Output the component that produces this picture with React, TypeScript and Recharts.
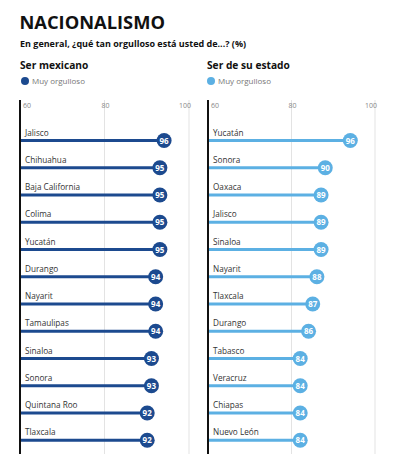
import React from 'react';
import { BarChart, Bar, XAxis, YAxis, CartesianGrid } from 'recharts';

const mexicanoStates = ['Jalisco', 'Chihuahua', 'Baja California', 'Colima', 'Yucatán', 'Durango', 'Nayarit', 'Tamaulipas', 'Sinaloa', 'Sonora', 'Quintana Roo', 'Tlaxcala'];
const mexicanoValues = [96, 95, 95, 95, 95, 94, 94, 94, 93, 93, 92, 92];
const estadoStates = ['Yucatán', 'Sonora', 'Oaxaca', 'Jalisco', 'Sinaloa', 'Nayarit', 'Tlaxcala', 'Durango', 'Tabasco', 'Veracruz', 'Chiapas', 'Nuevo León'];
const estadoValues = [96, 90, 89, 89, 89, 88, 87, 86, 84, 84, 84, 84];
const axisTicks = [60, 80, 100];
const axisDomain = [60, 100];

const FONT = '"Open Sans", "DejaVu Sans", sans-serif';
const DARK = '#1c4a8f';
const LIGHT = '#5cb0e3';

const mexicanoData = mexicanoStates.map((name, i) => ({ name, value: mexicanoValues[i] }));
const estadoData = estadoStates.map((name, i) => ({ name, value: estadoValues[i] }));

const makeShape = (color: string) => (props: any) => {
  const { x, y, width, height, payload } = props;
  const cy = y + height / 2;
  const r = 7.5;
  const cx = x + width - 8;
  return (
    <g>
      <text x={x + 5} y={cy - 5} fontSize={8.2} fill="#333" fontFamily={FONT}>{payload.name}</text>
      <line x1={x} x2={cx} y1={cy} y2={cy} stroke={color} strokeWidth={3} />
      <circle cx={cx} cy={cy} r={r} fill={color} />
      <text x={cx} y={cy + 3} fontSize={8} fontWeight={700} fill="#fff" textAnchor="middle" fontFamily={FONT}>{payload.value}</text>
    </g>
  );
};

const TickLabel = (props: any) => {
  const { x, y, payload } = props;
  const v = payload.value;
  let anchor: 'start' | 'middle' | 'end' = 'middle';
  let dx = 1;
  if (v === 60) { anchor = 'start'; dx = 3; }
  if (v === 100) { anchor = 'middle'; dx = -4; }
  return (
    <text x={x + dx} y={y + 8} fontSize={7} fill="#888" textAnchor={anchor} fontFamily={FONT}>{v}</text>
  );
};

const Panel = ({ data, color, width, left, right }: any) => (
  <BarChart
    width={width}
    height={454}
    data={data}
    layout="vertical"
    margin={{ top: 92, right, bottom: 0, left }}
    barCategoryGap={0}
  >
    <CartesianGrid horizontal={false} vertical stroke="#e3e3e3" strokeWidth={1} />
    <XAxis
      type="number"
      orientation="top"
      domain={axisDomain}
      ticks={axisTicks}
      allowDataOverflow
      height={8}
      axisLine={false}
      tickLine={false}
      tickSize={0}
      tickMargin={0}
      tick={<TickLabel />}
      interval={0}
    />
    <YAxis
      type="category"
      dataKey="name"
      width={1}
      tick={false}
      tickLine={false}
      axisLine={{ stroke: '#111', strokeWidth: 2 }}
      padding={{ top: 27, bottom: 0 }}
    />
    <Bar dataKey="value" isAnimationActive={false} shape={makeShape(color)} />
  </BarChart>
);

export default function App() {
  return (
    <div style={{ position: 'absolute', left: 0, top: 0, width: 395, height: 454, background: '#fff', overflow: 'hidden' }}>
      <svg width={395} height={100} style={{ position: 'absolute', left: 0, top: 0 }}>
        <text x={19.5} y={28.5} fontSize={18.3} fontWeight={700} fill="#111" fontFamily={FONT}>NACIONALISMO</text>
        <text x={20} y={46.5} fontSize={9} fontWeight={700} fill="#111" fontFamily={FONT}>En general, ¿qué tan orgulloso está usted de...? (%)</text>
        <text x={20} y={68.5} fontSize={10.2} fontWeight={700} fill="#111" fontFamily={FONT}>Ser mexicano</text>
        <text x={207} y={68.5} fontSize={10.2} fontWeight={700} fill="#111" fontFamily={FONT}>Ser de su estado</text>
        <circle cx={25} cy={81} r={4} fill={DARK} />
        <text x={32} y={84} fontSize={8} fill="#777" fontFamily={FONT}>Muy orgulloso</text>
        <circle cx={211} cy={81} r={4} fill={LIGHT} />
        <text x={218} y={84} fontSize={8} fill="#777" fontFamily={FONT}>Muy orgulloso</text>
      </svg>
      <div style={{ position: 'absolute', left: 0, top: 0 }}>
        <Panel data={mexicanoData} color={DARK} width={200} left={19} right={11} />
      </div>
      <div style={{ position: 'absolute', left: 200, top: 0 }}>
        <Panel data={estadoData} color={LIGHT} width={195} left={7} right={20} />
      </div>
    </div>
  );
}
